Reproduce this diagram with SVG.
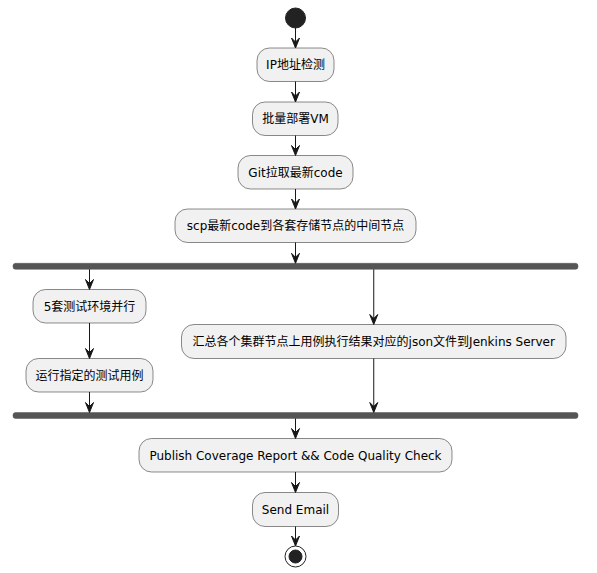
<svg xmlns="http://www.w3.org/2000/svg" width="597" height="573" viewBox="0 0 597 573">
<defs>
<style>
.act{fill:#F1F1F1;stroke:#181818;stroke-width:0.5;}
.bar{fill:#555555;stroke:#555555;stroke-width:0.5;}
.txt{font-family:"DejaVu Sans","Noto Sans CJK SC",sans-serif;font-size:12px;fill:#000000;text-anchor:middle;}
.ln{stroke:#181818;stroke-width:1;fill:none;}
.ah{fill:#181818;stroke:#181818;stroke-width:1;}
</style>
</defs>
<rect width="597" height="573" fill="#FFFFFF"/>
<g id="start"><circle cx="295.5" cy="18" r="10" fill="#222222" stroke="#222222"/></g>
<g id="n1"><rect class="act" x="257" y="48" width="77" height="33.5" rx="12.5"/><text class="txt" x="295.5" y="69">IP地址检测</text></g>
<g id="n2"><rect class="act" x="252.5" y="102" width="85.5" height="33.5" rx="12.5"/><text class="txt" x="295.5" y="123">批量部署VM</text></g>
<g id="n3"><rect class="act" x="238" y="155.5" width="115" height="33.5" rx="12.5"/><text class="txt" x="295.5" y="176.5">Git拉取最新code</text></g>
<g id="n4"><rect class="act" x="175" y="209" width="241" height="33.5" rx="12.5"/><text class="txt" x="295.5" y="230">scp最新code到各套存储节点的中间节点</text></g>
<g id="fork"><rect class="bar" x="13" y="263.3" width="565" height="6" rx="2.5"/></g>
<g id="n5"><rect class="act" x="33" y="289.5" width="113" height="33.5" rx="12.5"/><text class="txt" x="89.5" y="310.5">5套测试环境并行</text></g>
<g id="n6"><rect class="act" x="26" y="358.5" width="127" height="33.5" rx="12.5"/><text class="txt" x="89.5" y="379.5">运行指定的测试用例</text></g>
<g id="n7"><rect class="act" x="181.5" y="324.5" width="384.5" height="34" rx="12.5"/><text class="txt" x="373.75" y="345.5">汇总各个集群节点上用例执行结果对应的json文件到Jenkins Server</text></g>
<g id="join"><rect class="bar" x="13" y="412.5" width="565" height="6" rx="2.5"/></g>
<g id="n8"><rect class="act" x="139" y="438.5" width="313" height="33.5" rx="12.5"/><text class="txt" x="295.5" y="459.5">Publish Coverage Report &amp;&amp; Code Quality Check</text></g>
<g id="n9"><rect class="act" x="252.5" y="492.5" width="86" height="34" rx="12.5"/><text class="txt" x="295.5" y="513.5">Send Email</text></g>
<g id="end"><circle cx="295.5" cy="556.5" r="10.5" fill="none" stroke="#222222" stroke-width="1"/><circle cx="295.5" cy="556.5" r="6.5" fill="#222222" stroke="#222222"/></g>
<g id="connectors">
<line class="ln" x1="295.5" y1="28" x2="295.5" y2="46"/>
<polygon class="ah" points="291.5,38 295.5,48 299.5,38 295.5,42"/>
<line class="ln" x1="295.5" y1="81.5" x2="295.5" y2="100"/>
<polygon class="ah" points="291.5,92 295.5,102 299.5,92 295.5,96"/>
<line class="ln" x1="295.5" y1="135.5" x2="295.5" y2="153"/>
<polygon class="ah" points="291.5,145.5 295.5,155.5 299.5,145.5 295.5,149.5"/>
<line class="ln" x1="295.5" y1="189" x2="295.5" y2="207"/>
<polygon class="ah" points="291.5,199 295.5,209 299.5,199 295.5,203"/>
<line class="ln" x1="295.5" y1="242.5" x2="295.5" y2="261"/>
<polygon class="ah" points="291.5,253.3 295.5,263.3 299.5,253.3 295.5,257.3"/>
<line class="ln" x1="89.5" y1="269.3" x2="89.5" y2="287"/>
<polygon class="ah" points="85.5,279.5 89.5,289.5 93.5,279.5 89.5,283.5"/>
<line class="ln" x1="89.5" y1="323" x2="89.5" y2="356"/>
<polygon class="ah" points="85.5,348.5 89.5,358.5 93.5,348.5 89.5,352.5"/>
<line class="ln" x1="89.5" y1="392" x2="89.5" y2="410"/>
<polygon class="ah" points="85.5,402.5 89.5,412.5 93.5,402.5 89.5,406.5"/>
<line class="ln" x1="373.75" y1="269.3" x2="373.75" y2="322"/>
<polygon class="ah" points="369.75,314.5 373.75,324.5 377.75,314.5 373.75,318.5"/>
<line class="ln" x1="373.75" y1="358.5" x2="373.75" y2="410"/>
<polygon class="ah" points="369.75,402.5 373.75,412.5 377.75,402.5 373.75,406.5"/>
<line class="ln" x1="295.5" y1="418.5" x2="295.5" y2="436"/>
<polygon class="ah" points="291.5,428.5 295.5,438.5 299.5,428.5 295.5,432.5"/>
<line class="ln" x1="295.5" y1="472" x2="295.5" y2="490"/>
<polygon class="ah" points="291.5,482.5 295.5,492.5 299.5,482.5 295.5,486.5"/>
<line class="ln" x1="295.5" y1="526.5" x2="295.5" y2="544"/>
<polygon class="ah" points="291.5,536 295.5,546 299.5,536 295.5,540"/>
</g>
</svg>
